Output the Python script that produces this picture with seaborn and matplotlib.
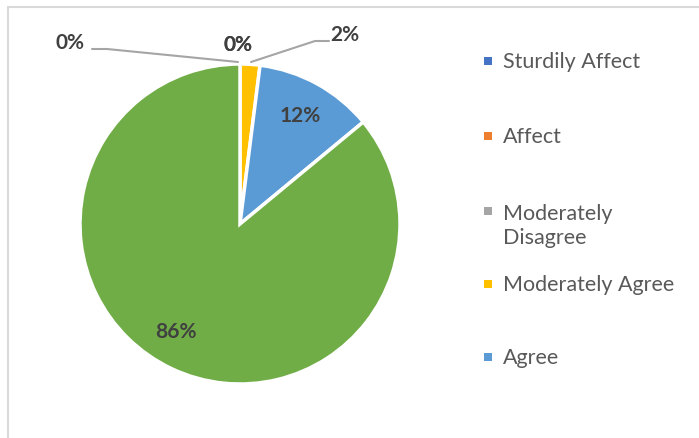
import numpy as np
import matplotlib
matplotlib.use("Agg")
import matplotlib.pyplot as plt
import seaborn as sns
from matplotlib.patches import Rectangle

sns.set_theme(style="white")
plt.rcParams["font.family"] = ["Lato", "DejaVu Sans"]

# Survey responses (share of respondents, %)
categories = ["Sturdily Affect", "Affect", "Moderately\nDisagree",
              "Moderately Agree", "Agree", "Sturdily Agree"]
values = [0, 0, 0, 2, 12, 86]
colors = ["#4472C4", "#ED7D31", "#A5A5A5", "#FFC000", "#5B9BD5", "#70AD47"]
legend_count = 5  # entries that fit in the legend column

W, H = 699, 439
fig = plt.figure(figsize=(W / 100, H / 100), dpi=100)
fig.patch.set_facecolor("white")

# chart-area frame (top and left edges visible)
fig.patches.append(Rectangle((7.5 / W, -0.1), 1.2, (H - 7.5) / H + 0.1,
                             transform=fig.transFigure, fill=False,
                             edgecolor="#D9D9D9", linewidth=1.5))

cx, cy, r = 240, 225, 160
ax = fig.add_axes([(cx - r) / W, (H - cy - r) / H, 2 * r / W, 2 * r / H])
wedges, _ = ax.pie(values, colors=colors, startangle=90, counterclock=False,
                   radius=1, wedgeprops=dict(edgecolor="white", linewidth=2.5))
ax.set_xlim(-1, 1)
ax.set_ylim(-1, 1)
ax.set_aspect("equal")
ax.axis("off")

lab_kw = dict(fontsize=15, fontweight="bold", color="#404040",
              ha="center", va="center", clip_on=False)


def px(x, y):
    return (x - cx) / r, (cy - y) / r


# value labels: inside for large slices, outside with leaders for small ones
total = sum(values)
cum = 0
for i, v in enumerate(values):
    mid = (cum + v / 2) / total * 2 * np.pi
    cum += v
    text = f"{v}%"
    if v >= 5:
        ang = mid + (0.1 if v > 50 else 0)
        ax.text(0.78 * np.sin(ang), 0.78 * np.cos(ang), text, **lab_kw)
    elif i == 0:
        ax.text(*px(70, 43), text, **lab_kw)
        ax.plot(*zip(px(92, 50), px(107, 50), px(238, 63)),
                color="#A5A5A5", lw=1.5, clip_on=False)
    elif i in (1, 2):
        ax.text(*px(238, 45), text, **lab_kw)
    else:
        ax.text(*px(345, 35), text, **lab_kw)
        ax.plot(*zip(px(251, 63), px(315, 42), px(329, 42)),
                color="#A5A5A5", lw=1.5, clip_on=False)

# legend column
leg_y = [62, 137, 226, 285, 358]
for name, col, y in zip(categories[:legend_count], colors[:legend_count], leg_y):
    marker_y = y - 14 if "\n" in name else y
    fig.patches.append(Rectangle((484 / W, (H - marker_y - 4) / H), 8 / W, 8 / H,
                                 transform=fig.transFigure, facecolor=col,
                                 edgecolor="none"))
    fig.text(503 / W, (H - y) / H, name, fontsize=15.5, color="#595959",
             ha="left", va="center", linespacing=1.25)

fig.savefig("out.png", dpi=100, facecolor="white")
